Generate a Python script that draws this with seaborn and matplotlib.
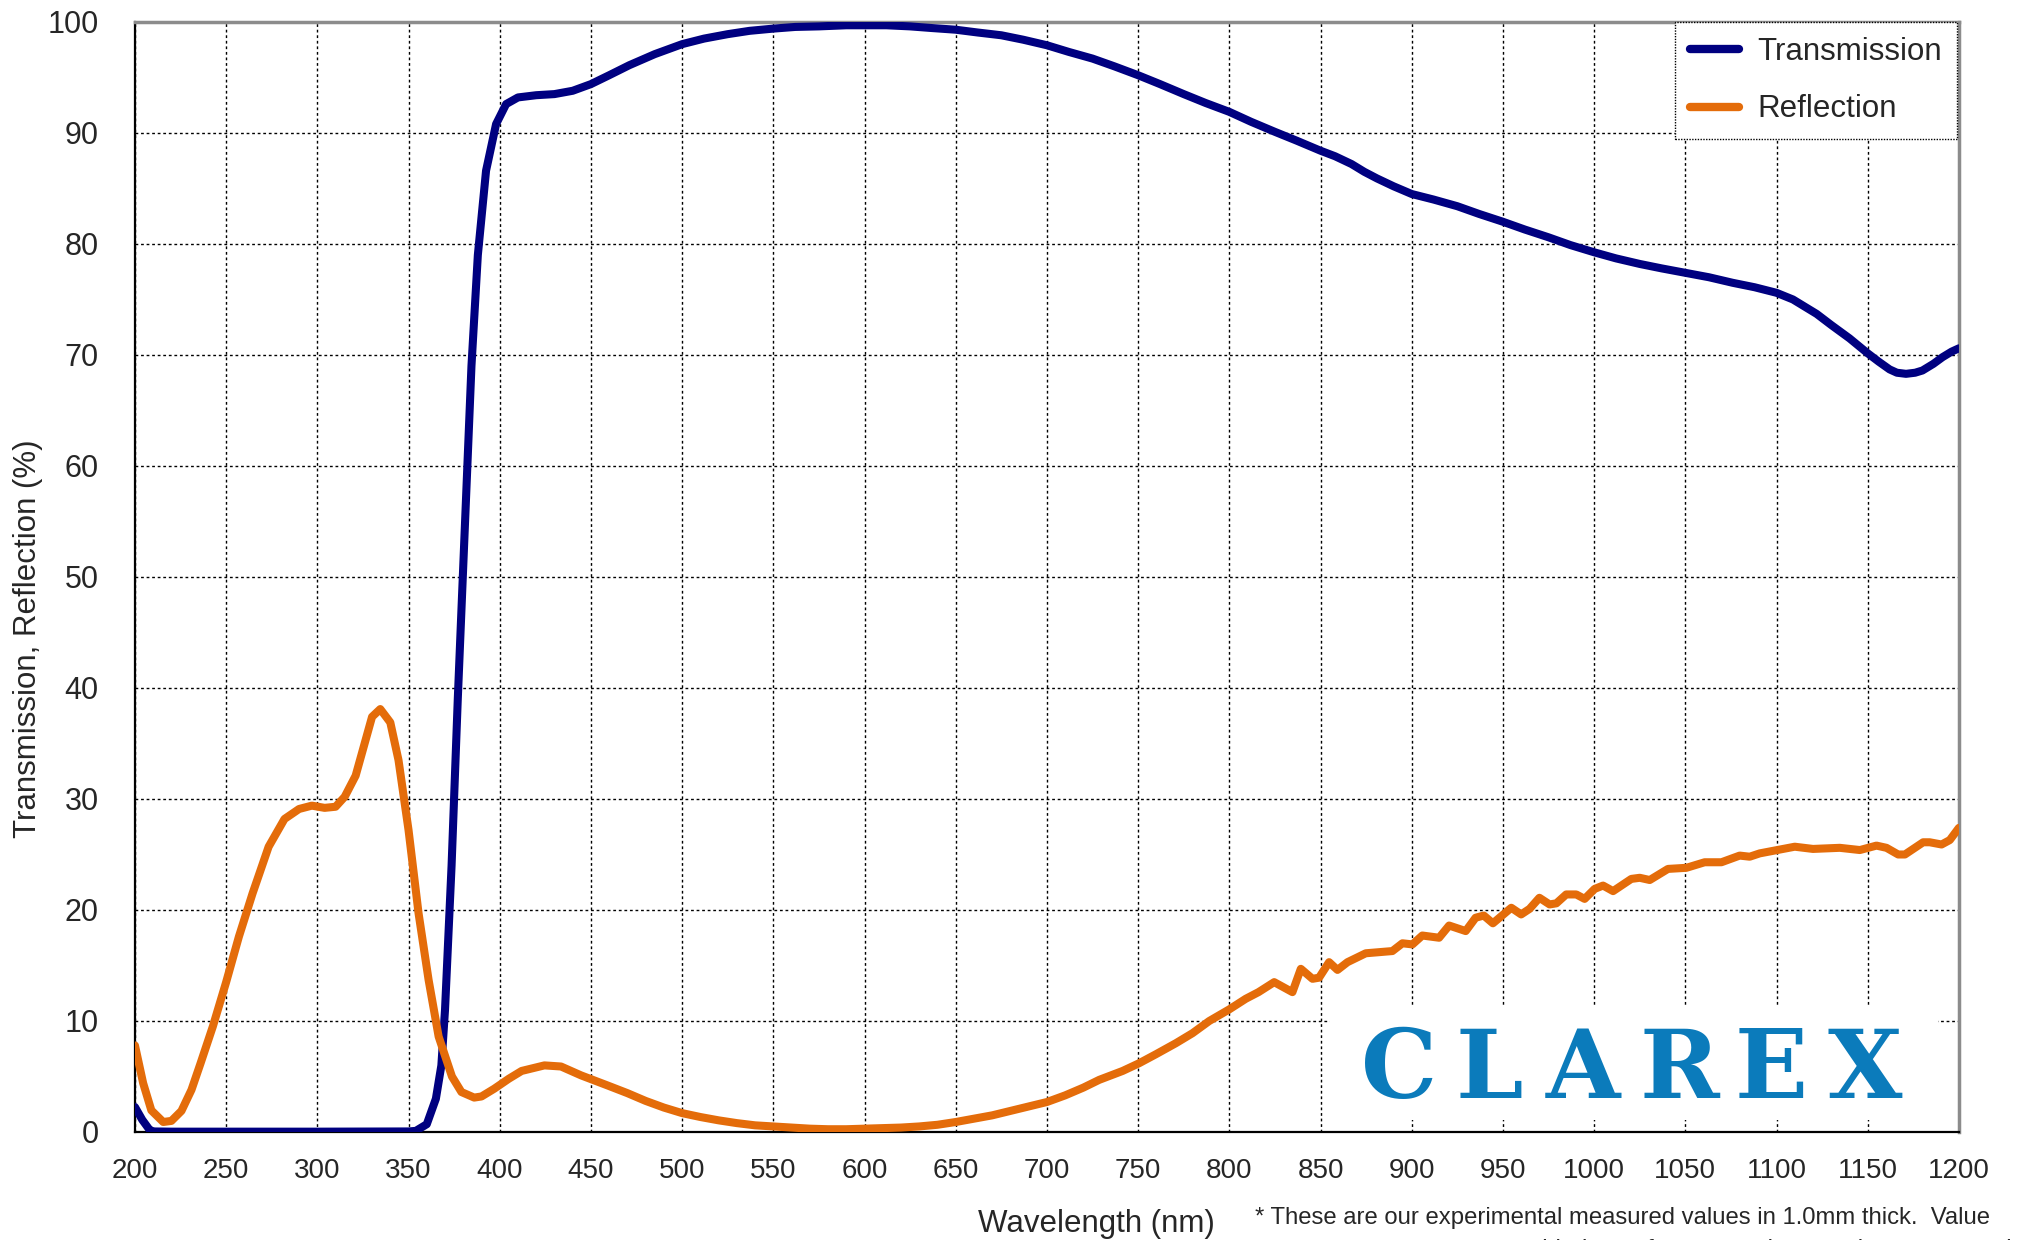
import pandas as pd
import seaborn as sns
import matplotlib.pyplot as plt
import numpy as np
from matplotlib.patches import Rectangle

# Transmission curve (wavelength nm, %)
trans_nm = [200, 204, 208, 210, 220, 250, 300, 350, 354, 360, 365, 368, 370, 373.6, 377,
            381, 384.5, 388, 392.5, 398, 403.5, 410, 420, 430, 440, 450, 460, 471, 485,
            500, 512, 525, 537, 550, 562, 575, 590, 600, 612, 625, 637, 650, 662, 675,
            687, 700, 712, 725, 737, 750, 762, 775, 787, 800, 812, 825, 837, 850, 858,
            867, 874, 881, 890, 900, 912, 925, 937, 950, 962, 975, 987, 1000, 1012, 1025,
            1037, 1050, 1063, 1076, 1088, 1100, 1109, 1115, 1122, 1130, 1140, 1150, 1156,
            1162, 1166, 1171, 1176, 1180, 1186, 1191, 1196, 1200]
trans_val = [2.25, 1.1, 0.2, 0.05, 0.03, 0.03, 0.03, 0.05, 0.1, 0.7, 3.0, 6.0, 11.0, 24, 39,
             55, 69, 79, 86.6, 90.8, 92.6, 93.2, 93.4, 93.5, 93.8, 94.4, 95.2, 96.1, 97.1,
             98.0, 98.5, 98.9, 99.2, 99.4, 99.55, 99.6, 99.7, 99.7, 99.7, 99.6, 99.45, 99.3,
             99.05, 98.8, 98.4, 97.9, 97.3, 96.7, 96.0, 95.2, 94.4, 93.5, 92.7, 91.9, 91.0,
             90.1, 89.3, 88.4, 87.9, 87.2, 86.5, 85.9, 85.2, 84.5, 84.0, 83.4, 82.7, 82.0,
             81.3, 80.6, 79.9, 79.25, 78.7, 78.2, 77.8, 77.4, 77.0, 76.5, 76.1, 75.6, 75.0,
             74.4, 73.7, 72.7, 71.5, 70.15, 69.4, 68.7, 68.4, 68.3, 68.4, 68.6, 69.2, 69.8,
             70.3, 70.6]

# Reflection curve (wavelength nm, %)
refl_nm = [200, 204.5, 209, 215.5, 220, 225.5, 231, 236, 242.7, 250, 257, 264.5, 273.3, 282,
           290, 297, 304, 310, 315, 321, 330, 334.5, 340, 344.5, 350, 355.5, 361, 366.5,
           373.8, 379, 386, 390, 397, 405, 412, 424.5, 433.6, 444.6, 459, 470, 480, 490,
           500, 510, 520, 530, 540, 550, 560, 570, 580, 590, 600, 610, 620, 630, 640, 650,
           660, 670, 680, 690, 700, 710, 720, 728.7, 741.5, 750.6, 759.7, 770.7, 779.8, 789,
           800, 809, 816, 824.6, 834.6, 839.2, 845.6, 849.2, 854.7, 859.3, 864.8, 874.8,
           889.4, 894.9, 900.4, 905.8, 915, 920.5, 929.6, 935, 939.5, 944.5, 954.6, 960,
           964.6, 970, 975.6, 979.3, 984.7, 990.2, 994.8, 1000.3, 1004.9, 1010.4, 1020.4,
           1025, 1030.5, 1040.5, 1050.6, 1060.6, 1069.8, 1079.8, 1085.3, 1090.8, 1110, 1120,
           1134.7, 1145.7, 1154.8, 1160.3, 1166.7, 1170.4, 1180.4, 1184, 1190.5, 1195, 1200]
refl_val = [7.8, 4.4, 1.95, 0.9, 1.0, 1.9, 3.8, 6.2, 9.5, 13.5, 17.6, 21.5, 25.7, 28.2,
            29.1, 29.4, 29.2, 29.3, 30.2, 32.1, 37.4, 38.1, 36.9, 33.5, 27.2, 19.7, 13.7, 8.6,
            5.0, 3.6, 3.1, 3.2, 3.9, 4.8, 5.5, 6.0, 5.9, 5.1, 4.2, 3.5, 2.8, 2.2,
            1.7, 1.35, 1.05, 0.8, 0.6, 0.5, 0.4, 0.3, 0.25, 0.25, 0.3, 0.35, 0.4, 0.5, 0.65, 0.9,
            1.2, 1.5, 1.9, 2.3, 2.7, 3.3, 4.0, 4.7, 5.5, 6.2, 7.0, 8.0, 8.9, 10.0,
            11.05, 12.0, 12.6, 13.5, 12.6, 14.7, 13.8, 13.9, 15.3, 14.6, 15.3, 16.1,
            16.3, 17.0, 16.9, 17.7, 17.5, 18.6, 18.1, 19.3, 19.5, 18.8, 20.2, 19.6,
            20.1, 21.1, 20.5, 20.6, 21.4, 21.4, 21.0, 21.9, 22.2, 21.7, 22.8,
            22.9, 22.7, 23.7, 23.8, 24.3, 24.3, 24.9, 24.8, 25.1, 25.7, 25.5,
            25.6, 25.4, 25.8, 25.6, 25.0, 25.0, 26.1, 26.1, 25.9, 26.3, 27.4]

x_ticks = list(range(200, 1201, 50))
y_ticks = list(range(0, 101, 10))

sns.set_style("white")
plt.rcParams['font.family'] = ['Liberation Sans', 'DejaVu Sans']

fig = plt.figure(figsize=(20.17, 12.40), dpi=100)
ax = fig.add_axes([0.0669, 0.0871, 0.9043, 0.8952])

sns.lineplot(x=trans_nm, y=trans_val, ax=ax, color='#000080', linewidth=5.8,
             label='Transmission', solid_capstyle='round', solid_joinstyle='round', zorder=3)
sns.lineplot(x=refl_nm, y=refl_val, ax=ax, color='#E46C0A', linewidth=5.8,
             label='Reflection', solid_capstyle='round', solid_joinstyle='round', zorder=3)

ax.set_xlim(200, 1200)
ax.set_ylim(0, 100)
ax.set_xticks(x_ticks)
ax.set_yticks(y_ticks)
ax.tick_params(axis='x', direction='in', length=7, width=1.2, labelsize=20, pad=19)
ax.tick_params(axis='y', direction='in', length=7, width=1.2, labelsize=22, pad=26)
ax.grid(True, color='black', linestyle=(0, (2, 2)), linewidth=1)
ax.set_axisbelow(True)

for side in ['left', 'bottom']:
    ax.spines[side].set_color('black')
    ax.spines[side].set_linewidth(1.6)
for side in ['top', 'right']:
    ax.spines[side].set_color('#8c8c8c')
    ax.spines[side].set_linewidth(2.5)

ax.set_xlabel('Wavelength (nm)', fontsize=22.5)
ax.xaxis.label.set_va('center')
ax.xaxis.set_label_coords(0.5269, -0.083)
ax.set_ylabel('Transmission, Reflection (%)', fontsize=22.5)
ax.yaxis.label.set_va('center')
ax.yaxis.set_label_coords(-0.0587, 0.444)

leg = ax.legend(loc='upper right', bbox_to_anchor=(0.999, 1.0), fontsize=22.5,
                frameon=True, fancybox=False, framealpha=1, borderaxespad=0,
                borderpad=0.48, handlelength=1.55, handletextpad=0.6, labelspacing=0.88)
leg.get_frame().set_edgecolor('black')
leg.get_frame().set_linestyle((0, (1, 1)))
leg.get_frame().set_linewidth(1)
for line in leg.get_lines():
    line.set_linewidth(6)
    line.set_solid_capstyle('round')

# CLAREX logo on white panel
ax.add_patch(Rectangle((0.6552, 0.0108), 0.3333, 0.1018, transform=ax.transAxes,
                       facecolor='white', edgecolor='none', zorder=1.5))
logo_letters = 'CLAREX'
logo_x = [0.6930, 0.7423, 0.7939, 0.8465, 0.8969, 0.9484]
for letter, lx in zip(logo_letters, logo_x):
    ax.text(lx, 0.0306, letter, transform=ax.transAxes, ha='center', va='baseline',
            fontsize=69, fontweight='bold', family='DejaVu Serif', color='#0B7BBB',
            zorder=2)

fig.text(0.622, 0.0177, '* These are our experimental measured values in 1.0mm thick.  Value',
         fontsize=17.2, ha='left', va='center')
fig.text(0.712, 0.001, 's are provided as reference and cannot be guaranteed in your application due to',
         fontsize=17.2, ha='left', va='top')

plt.savefig('out.png', dpi=100, facecolor='white')
